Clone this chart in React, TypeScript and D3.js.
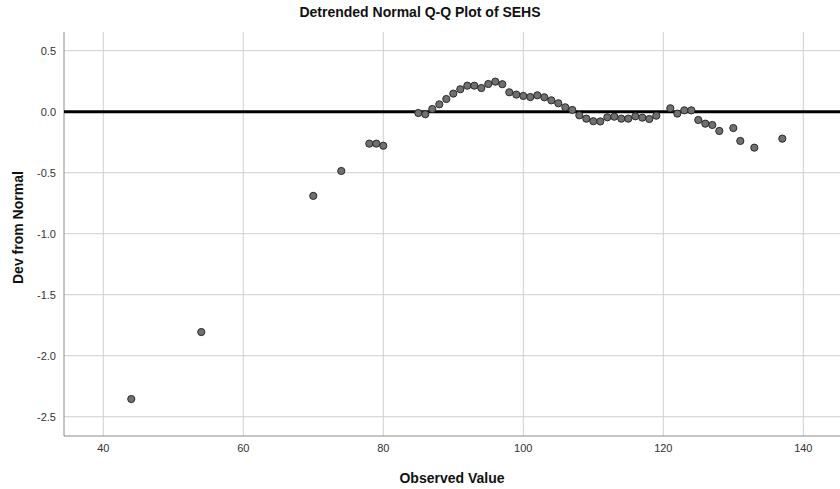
import * as d3 from 'd3'
import React, { useEffect, useRef } from 'react'

const observed = [
    44, 54, 70, 74, 78, 79, 80,
    85, 86, 87, 88, 89, 90, 91, 92, 93, 94, 95, 96, 97, 98, 99,
    100, 101, 102, 103, 104, 105, 106, 107, 108, 109, 110, 111, 112, 113, 114,
    115, 116, 117, 118, 119, 121, 122, 123, 124, 125, 126, 127, 128, 130, 131, 133, 137,
]
const deviation = [
    -2.355, -1.806, -0.69, -0.486, -0.262, -0.262, -0.279,
    -0.011, -0.021, 0.022, 0.06, 0.104, 0.148, 0.184, 0.213, 0.213, 0.194, 0.227, 0.246, 0.225, 0.159, 0.14,
    0.129, 0.12, 0.134, 0.118, 0.093, 0.069, 0.036, 0.014, -0.03, -0.057, -0.078, -0.08, -0.046, -0.041, -0.057,
    -0.057, -0.038, -0.049, -0.06, -0.033, 0.028, -0.016, 0.011, 0.011, -0.068, -0.098, -0.109, -0.158, -0.134, -0.24, -0.295, -0.221,
]
const xTicks = [40, 60, 80, 100, 120, 140]
const yTicks = [0.5, 0.0, -0.5, -1.0, -1.5, -2.0, -2.5]

const W = 840, H = 489
const FONT = "'Liberation Sans', Arial, sans-serif"

const App = () => {
    const ref = useRef<SVGSVGElement>(null)

    useEffect(() => {
        const svg = d3.select(ref.current)
        svg.selectAll("*").remove()

        const margin = { top: 32, right: 0, bottom: 53, left: 64 }
        const xaxisScale = d3.scaleLinear()
            .domain([34.39, 145.24])
            .range([margin.left, W - margin.right])
        const yaxisScale = d3.scaleLinear()
            .domain([-2.658, 0.653])
            .range([H - margin.bottom, margin.top])

        svg.append("rect").attr("width", W).attr("height", H).attr("fill", "white")

        // grid
        const grid = svg.append("g")
        grid.selectAll(".vgrid")
            .data(xTicks)
            .enter()
            .append("line")
            .attr("x1", d => xaxisScale(d)).attr("x2", d => xaxisScale(d))
            .attr("y1", margin.top).attr("y2", H - margin.bottom)
            .attr("stroke", "#cfcfcf")
        grid.selectAll(".hgrid")
            .data(yTicks)
            .enter()
            .append("line")
            .attr("x1", margin.left).attr("x2", W - margin.right)
            .attr("y1", d => yaxisScale(d)).attr("y2", d => yaxisScale(d))
            .attr("stroke", "#cfcfcf")

        // axes lines
        svg.append("line")
            .attr("x1", margin.left).attr("x2", margin.left)
            .attr("y1", margin.top).attr("y2", H - margin.bottom)
            .attr("stroke", "#8c8c8c")
        svg.append("line")
            .attr("x1", margin.left).attr("x2", W - margin.right)
            .attr("y1", H - margin.bottom).attr("y2", H - margin.bottom)
            .attr("stroke", "#8c8c8c")

        // tick labels (plain hyphen for negatives, as SPSS prints them)
        svg.append("g").selectAll("text")
            .data(yTicks)
            .enter()
            .append("text")
            .attr("x", margin.left - 8)
            .attr("y", d => yaxisScale(d))
            .attr("dy", "0.35em")
            .attr("text-anchor", "end")
            .attr("font-size", 11)
            .attr("font-family", FONT)
            .attr("fill", "#333")
            .text(d => d.toFixed(1))
        svg.append("g").selectAll("text")
            .data(xTicks)
            .enter()
            .append("text")
            .attr("x", d => xaxisScale(d))
            .attr("y", H - margin.bottom + 16)
            .attr("text-anchor", "middle")
            .attr("font-size", 11)
            .attr("font-family", FONT)
            .attr("fill", "#333")
            .text(d => d)

        // zero reference line
        svg.append("line")
            .attr("x1", margin.left).attr("x2", W - margin.right)
            .attr("y1", yaxisScale(0)).attr("y2", yaxisScale(0))
            .attr("stroke", "black")
            .attr("stroke-width", 3)

        // points
        const data = observed.map((o, i) => ({ x: o, y: deviation[i] }))
        svg.append("g").selectAll("circle")
            .data(data)
            .enter()
            .append("circle")
            .attr("cx", d => xaxisScale(d.x))
            .attr("cy", d => yaxisScale(d.y))
            .attr("r", 3.6)
            .attr("fill", "#707070")
            .attr("stroke", "#2a2a2a")
            .attr("stroke-width", 1)

        // titles
        svg.append("text")
            .attr("x", W / 2)
            .attr("y", 17)
            .attr("text-anchor", "middle")
            .attr("font-size", 14)
            .attr("font-weight", "bold")
            .attr("font-family", FONT)
            .attr("fill", "#111")
            .text("Detrended Normal Q-Q Plot of SEHS")
        svg.append("text")
            .attr("x", (margin.left + W - margin.right) / 2)
            .attr("y", 483)
            .attr("text-anchor", "middle")
            .attr("font-size", 14)
            .attr("font-weight", "bold")
            .attr("font-family", FONT)
            .attr("fill", "#111")
            .text("Observed Value")
        svg.append("text")
            .attr("transform", `translate(23, ${yaxisScale(-0.95)}) rotate(-90)`)
            .attr("text-anchor", "middle")
            .attr("font-size", 14)
            .attr("font-weight", "bold")
            .attr("font-family", FONT)
            .attr("fill", "#111")
            .text("Dev from Normal")
    }, [])

    return (
        <svg ref={ref} width={W} height={H} style={{ display: "block", position: "absolute", left: 0, top: 0 }} />
    )
}

export default App
